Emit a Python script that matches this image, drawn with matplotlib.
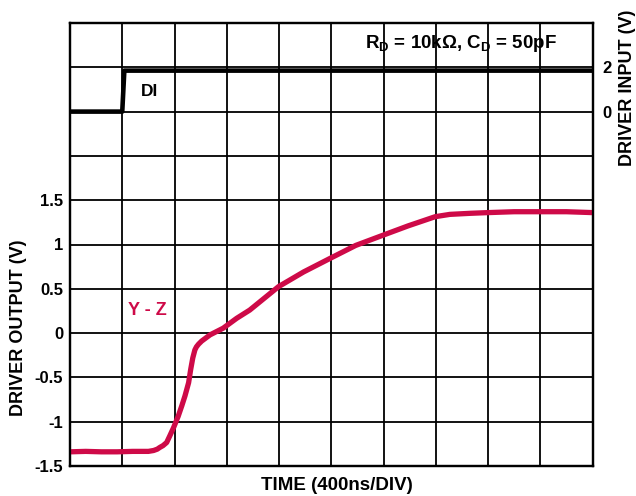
import numpy as np
import matplotlib
matplotlib.use("Agg")
import matplotlib.pyplot as plt

plt.rcParams["font.family"] = ["Liberation Sans", "DejaVu Sans"]
plt.rcParams["font.weight"] = "bold"
plt.rcParams["font.size"] = 12

# time in divisions (400ns/DIV)
di_t = [0, 1.0, 1.04, 10]
di_v = [0, 0, 1.85, 1.85]

yz_t = [0, 0.3, 0.6, 0.9, 1.2, 1.5, 1.6, 1.67, 1.72, 1.78, 1.85, 1.91, 1.98, 2.07, 2.14, 2.20,
        2.27, 2.31, 2.35, 2.39, 2.42, 2.46, 2.52, 2.68, 2.93, 3.19, 3.44, 3.99,
        4.47, 4.98, 5.47, 6.0, 6.47, 6.99, 7.27, 7.66, 8.0, 8.5, 9.0, 9.5, 10]
yz_v = [-1.34, -1.335, -1.34, -1.34, -1.335, -1.335, -1.325, -1.31, -1.29, -1.27, -1.235, -1.16, -1.07, -0.94, -0.82, -0.71,
        -0.56, -0.41, -0.28, -0.19, -0.155, -0.125, -0.09, -0.02, 0.055, 0.167, 0.26, 0.524,
        0.69, 0.844, 0.99, 1.107, 1.21, 1.314, 1.34, 1.352, 1.36, 1.37, 1.37, 1.37, 1.36]

left_ticks = [-1.5, -1.0, -0.5, 0, 0.5, 1.0, 1.5, 2.0, 2.5, 3.0, 3.5]
left_labels = ["-1.5", "-1", "-0.5", "0", "0.5", "1", "1.5", "", "", "", ""]
right_ticks = [0, 2]
right_labels = ["0", "2"]

red = "#CE0A48"

fig = plt.figure(figsize=(6.36, 4.96), dpi=100)
ax = fig.add_axes([70 / 636, 30 / 496, 522.5 / 636, 443 / 496])

ax.set_xlim(0, 10)
ax.set_ylim(-1.5, 3.5)
ax.set_xticks(range(11))
ax.set_xticklabels([])
ax.set_yticks(left_ticks)
ax.set_yticklabels(left_labels)
ax.tick_params(length=0, pad=5)
ax.grid(True, color="black", linewidth=1.3)
for s in ax.spines.values():
    s.set_linewidth(1.6)

ax.plot(yz_t, yz_v, color=red, linewidth=3.8, solid_capstyle="round",
        solid_joinstyle="round", zorder=3)

ax.text(1.49, 0.25, "Y - Z", color=red, ha="center", va="center", fontsize=13)
ax.text(1.53, 2.73, "DI", color="black", ha="center", va="center", fontsize=12.5)
ax.text(7.48, 3.27, r"R$_\mathregular{D}$ = 10kΩ, C$_\mathregular{D}$ = 50pF",
        ha="center", va="center", fontsize=13.5)

ax2 = ax.twinx()
ax2.set_ylim(-16, 4)
ax2.set_yticks(right_ticks)
ax2.set_yticklabels(right_labels)
ax2.tick_params(length=0, pad=7)
ax2.plot(di_t, di_v, color="black", linewidth=3.3)
for s in ax2.spines.values():
    s.set_linewidth(1.6)

# axis titles placed where the reference has them
fig.text(336.7 / 636, 1 - 485 / 496, "TIME (400ns/DIV)", ha="center", va="center",
         fontsize=13.5)
fig.text(19 / 636, 1 - 328 / 496, "DRIVER OUTPUT (V)", ha="center", va="center",
         rotation=90, fontsize=13)
fig.text(627.5 / 636, 1 - 87.5 / 496, "DRIVER INPUT (V)", ha="center", va="center",
         rotation=90, fontsize=13)

fig.savefig("out.png", dpi=100)
